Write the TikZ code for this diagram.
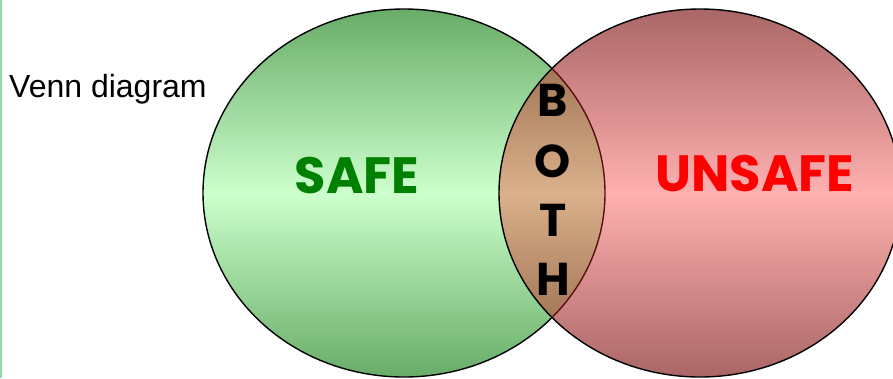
\documentclass[tikz,border=0pt]{standalone}
\usepackage{fontspec}
\setmainfont{Liberation Sans}
\newfontfamily\comicfont{Poppins}
\usepackage{xcolor}
\usetikzlibrary{positioning}
\definecolor{gdark}{HTML}{68AC68}
\definecolor{glight}{HTML}{CCFFCC}
\definecolor{rdark}{HTML}{AA6666}
\definecolor{rlight}{HTML}{FFB0B0}
\definecolor{bdark}{HTML}{8A5E3E}
\definecolor{blight}{HTML}{DBB08C}
\definecolor{edgeline}{HTML}{8FDCAA}
\definecolor{lensline}{HTML}{5A1010}
\definecolor{safegreen}{HTML}{008000}
\tikzset{
  setline/.style={draw=black, line width=1.4pt},
  greenset/.style={top color=gdark, bottom color=gdark, middle color=glight},
  redset/.style={top color=rdark, bottom color=rdark, middle color=rlight},
  lensset/.style={top color=bdark, bottom color=bdark, middle color=blight},
  setlabel/.style={font=\comicfont\bfseries\fontsize{51}{51}\selectfont, inner sep=0pt},
  bothletter/.style={font=\comicfont\bfseries\fontsize{46}{46}\selectfont, inner sep=0pt}
}

\begin{document}
\begin{tikzpicture}[x=1pt, y=-1pt]
  \useasboundingbox (0,0) rectangle (893,378);
  \clip (0,0) rectangle (893,378);

  % thin edge on the left
  \fill[edgeline] (0,0) rectangle (1.6,378);

  % the two sets
  \path[greenset] (404,193) ellipse [x radius=201, y radius=184];
  \draw[setline] (404,193) ellipse [x radius=201, y radius=184];
  \path[redset] (700,193) ellipse [x radius=201, y radius=184];

  % overlap of the two sets
  \begin{scope}
    \clip (404,193) ellipse [x radius=201, y radius=184];
    \path[lensset] (700,193) ellipse [x radius=201, y radius=184];
  \end{scope}
  \begin{scope}
    \clip (700,193) ellipse [x radius=201, y radius=184];
    \draw[setline, draw=lensline] (404,193) ellipse [x radius=201, y radius=184];
  \end{scope}
  \draw[setline] (700,193) ellipse [x radius=201, y radius=184];

  % labels
  \node[anchor=base west, font=\fontsize{32}{36}\selectfont, inner sep=0pt] (title) at (9,97) {Venn diagram};
  \node[setlabel, text=safegreen] (safe) at (357,176) {SAFE};
  \node[setlabel, text=red] (unsafe) at (755,174) {UNSAFE};

  % the overlap word, one letter under the other
  \node[bothletter] (b) at (553,100) {B};
  \node[bothletter, below=61pt of b.center, anchor=center] (o) {O};
  \node[bothletter, below=59pt of o.center, anchor=center] (t) {T};
  \node[bothletter, below=59pt of t.center, anchor=center] (h) {H};
\end{tikzpicture}
\end{document}
